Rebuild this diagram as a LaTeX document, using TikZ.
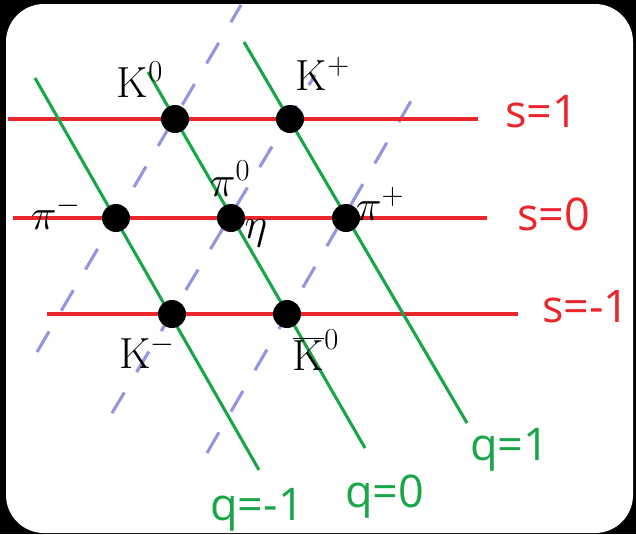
\RequirePackage{fix-cm}
\documentclass[tikz,border=0pt]{standalone}
\usepackage{fontspec}
\setsansfont{Open Sans}
\usetikzlibrary{positioning}
\definecolor{sred}{RGB}{236,36,44}
\definecolor{qgreen}{RGB}{24,166,72}
\definecolor{dashblue}{RGB}{148,148,226}

\tikzset{
    sline/.style={draw=sred, line width=2.2pt},
    qline/.style={draw=qgreen, line width=2.2pt},
    uline/.style={draw=dashblue, line width=2.2pt, dash pattern=on 17pt off 17pt},
    meson/.style={circle, fill=black, inner sep=0pt, minimum size=0.7cm},
    hand/.style={inner sep=0pt, font=\fontsize{31}{36}\selectfont},
    slabel/.style={inner sep=0pt, anchor=base west, text=sred, font=\sffamily\fontsize{32}{38}\selectfont},
    qlabel/.style={inner sep=0pt, anchor=base west, text=qgreen, font=\sffamily\fontsize{32}{38}\selectfont}
}

\begin{document}
\begin{tikzpicture}[x=0.025cm, y=-0.025cm]
    % frame
    \useasboundingbox (0,0) rectangle (636,534);
    \fill[black] (0,0) rectangle (636,534);
    \fill[white, rounded corners=0.95cm] (6,4) rectangle (633,533);

    % line ends
    \coordinate (s1w) at (8,119);    \coordinate (s1e) at (478,119);
    \coordinate (s0w) at (13,218);   \coordinate (s0e) at (487,218);
    \coordinate (smw) at (47,314);   \coordinate (sme) at (518,314);
    \coordinate (qmt) at (35,78);    \coordinate (qmb) at (259,470);
    \coordinate (q0t) at (148,72);   \coordinate (q0b) at (365,448);
    \coordinate (q1t) at (244,42);   \coordinate (q1b) at (467,423);
    \coordinate (uab) at (37,352);   \coordinate (uat) at (241,5);
    \coordinate (ubb) at (112,413);  \coordinate (ubt) at (315,75);
    \coordinate (ucb) at (207,453);  \coordinate (uct) at (411,101);

    % dashed lines
    \draw[uline] (uab) -- (uat);
    \draw[uline] (ubb) -- (ubt);
    \draw[uline] (ucb) -- (uct);

    % strangeness lines
    \draw[sline] (s1w) -- (s1e);
    \draw[sline] (s0w) -- (s0e);
    \draw[sline] (smw) -- (sme);

    % charge lines
    \draw[qline] (qmt) -- (qmb);
    \draw[qline] (q0t) -- (q0b);
    \draw[qline] (q1t) -- (q1b);

    % mesons
    \node[meson] (K0) at (175,119) {};
    \node[meson] (Kp) at (290,119) {};
    \node[meson] (pim) at (116,218) {};
    \node[meson] (pi0) at (231,218) {};
    \node[meson] (pip) at (346,218) {};
    \node[meson] (Km) at (172,314) {};
    \node[meson] (K0b) at (287,314) {};

    % meson names
    \node[hand] (lK0) at (140,80) {$\mathrm{K}^{0}$};
    \node[hand] (lKp) at (323,74) {$\mathrm{K}^{+}$};
    \node[hand] (lpim) at (56,213) {$\pi^{-}$};
    \node[hand] (lpi0) at (230,179) {$\pi^{0}$};
    \node[hand] (leta) at (256,233) {$\eta$};
    \node[hand] (lpip) at (380,204) {$\pi^{+}$};
    \node[hand] (lKm) at (147,352) {$\mathrm{K}^{-}$};
    \node[hand] (lK0b) at (316,350) {$\overline{\mathrm{K}}^{0}$};

    % axis names
    \node[slabel] (s1) at (505,127) {s=1};
    \node[slabel] (s0) at (517,230) {s=0};
    \node[slabel] (sm1) at (542,322) {s=-1};
    \node[qlabel] (qm1) at (210,520) {q=-1};
    \node[qlabel] (q0) at (345,507) {q=0};
    \node[qlabel] (q1) at (470,460) {q=1};
\end{tikzpicture}
\end{document}
